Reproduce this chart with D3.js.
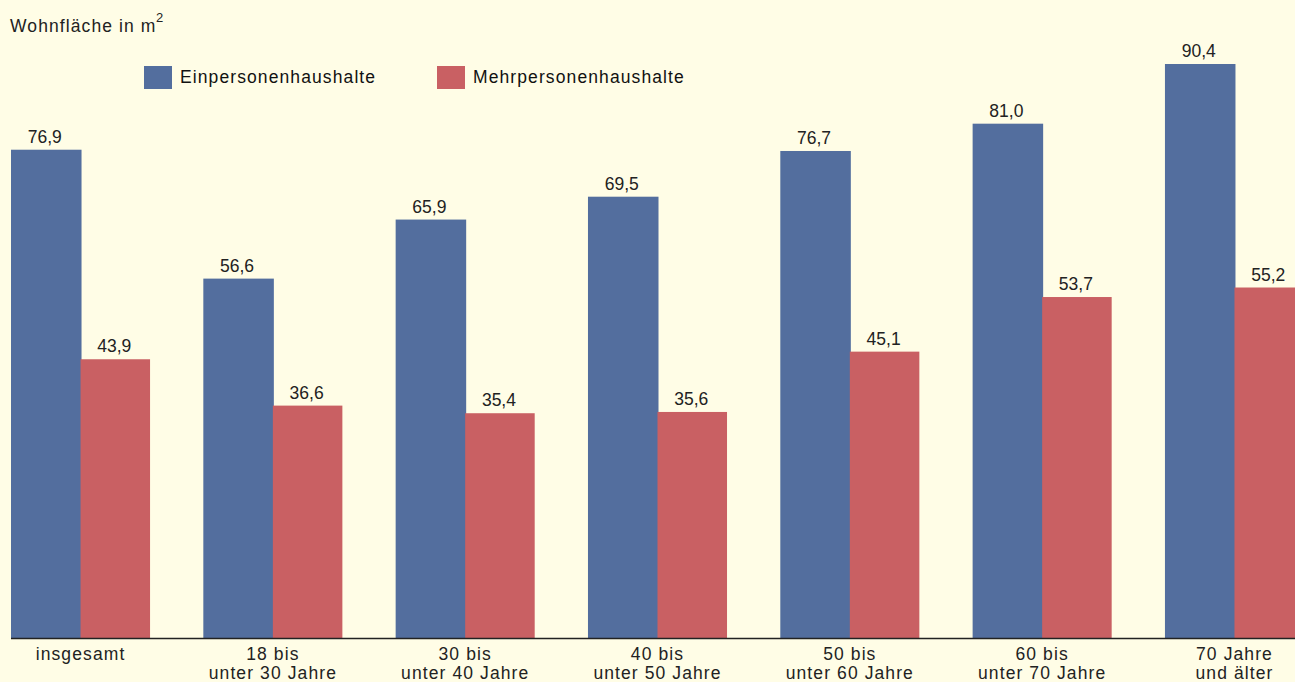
<!DOCTYPE html>
<html>
<head>
<meta charset="utf-8">
<script src="https://cdn.jsdelivr.net/npm/d3@7"></script>
<style>
  body { margin: 0; background: #fffde6; }
  svg { display: block; font-family: "Liberation Sans", Arial, sans-serif; }
  .wide { letter-spacing: 1.1px; }
</style>
</head>
<body>
<script>
// data
var categories = ["insgesamt", "18 bis|unter 30 Jahre", "30 bis|unter 40 Jahre", "40 bis|unter 50 Jahre",
                  "50 bis|unter 60 Jahre", "60 bis|unter 70 Jahre", "70 Jahre|und älter"];
var einpersonen = [76.9, 56.6, 65.9, 69.5, 76.7, 81.0, 90.4];
var mehrpersonen = [43.9, 36.6, 35.4, 35.6, 45.1, 53.7, 55.2];
var seriesNames = ["Einpersonenhaushalte", "Mehrpersonenhaushalte"];
var colors = ["#536e9e", "#c96063"];

var width = 1295, height = 682;
var baseline = 638;
var fs = 17.5;

var svg = d3.select("body").append("svg")
            .attr("width", width)
            .attr("height", height);

svg.append("rect").attr("width", width).attr("height", height).attr("fill", "#fffde6");

var x = d3.scaleBand()
          .domain(categories)
          .range([11, 1304])
          .paddingInner(0.277)
          .paddingOuter(0);

var x1 = d3.scaleBand()
           .domain(seriesNames)
           .range([0, x.bandwidth()]);

var y = d3.scaleLinear()
          .domain([0, 90.4])
          .range([baseline, 64]);

var rows = categories.map(function(c, i) {
  return { cat: c, vals: [einpersonen[i], mehrpersonen[i]] };
});

var g = svg.selectAll("g.grp")
           .data(rows)
           .enter()
           .append("g")
           .attr("class", "grp")
           .attr("transform", function(d) { return "translate(" + x(d.cat) + ",0)"; });

var bars = g.selectAll("g.bar")
            .data(function(d) { return d.vals.map(function(v, j) { return { v: v, s: seriesNames[j], j: j }; }); })
            .enter()
            .append("g");

// blue bar drawn a bit wider underneath so no seam shows between the pair
bars.append("rect")
    .attr("x", function(d) { return x1(d.s); })
    .attr("width", function(d) { return x1.bandwidth() + (d.j === 0 ? 1 : 0); })
    .attr("y", function(d) { return y(d.v); })
    .attr("height", function(d) { return baseline - y(d.v); })
    .attr("fill", function(d) { return colors[d.j]; });

bars.append("text")
    .attr("x", function(d) { return x1(d.s) + x1.bandwidth() / 2 - 1; })
    .attr("y", function(d) { return y(d.v) - 7; })
    .attr("text-anchor", "middle")
    .attr("font-size", fs)
    .attr("fill", "#222")
    .text(function(d) { return d3.format(".1f")(d.v).replace(".", ","); });

// axis line
svg.append("line")
   .attr("x1", 11).attr("x2", width)
   .attr("y1", baseline + 0.5).attr("y2", baseline + 0.5)
   .attr("stroke", "#222").attr("stroke-width", 1.6);

// category labels
var lab = svg.selectAll("text.cat")
             .data(categories)
             .enter()
             .append("text")
             .attr("class", "cat wide")
             .attr("text-anchor", "middle")
             .attr("font-size", fs)
             .attr("fill", "#222")
             .attr("transform", function(d) { return "translate(" + (x(d) + x.bandwidth() / 2) + ",0)"; });

lab.selectAll("tspan")
   .data(function(d) { return d.split("|"); })
   .enter()
   .append("tspan")
   .attr("x", 0)
   .attr("y", function(d, i) { return 660 + i * 18.5; })
   .text(function(d) { return d; });

// title
var title = svg.append("text")
   .attr("class", "wide")
   .attr("x", 10).attr("y", 32)
   .attr("font-size", fs)
   .attr("fill", "#222")
   .text("Wohnfläche in m");
title.append("tspan")
   .attr("dx", -0.5)
   .attr("dy", -10)
   .attr("font-size", 13)
   .text("2");

// legend
var legendX = [144, 437];
var leg = svg.selectAll("g.leg")
             .data(seriesNames)
             .enter()
             .append("g")
             .attr("transform", function(d, i) { return "translate(" + legendX[i] + ",66)"; });
leg.append("rect")
   .attr("width", 28).attr("height", 23)
   .attr("fill", function(d, i) { return colors[i]; });
leg.append("text")
   .attr("class", "wide")
   .attr("x", 36).attr("y", 17)
   .attr("font-size", fs)
   .attr("fill", "#111")
   .text(function(d) { return d; });
</script>
</body>
</html>
